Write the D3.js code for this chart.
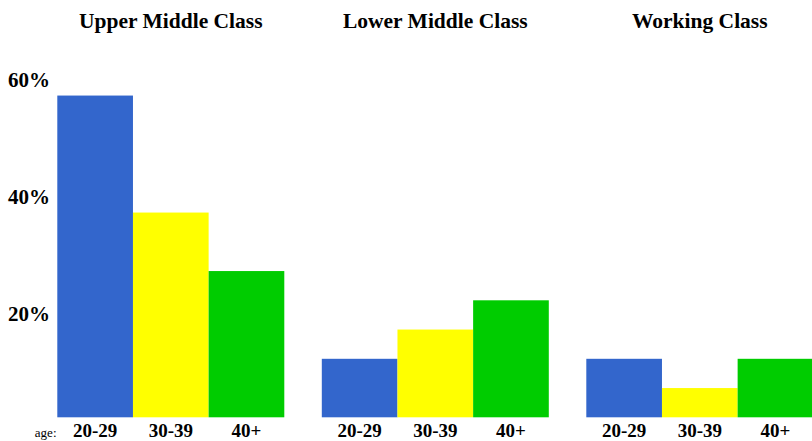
<!DOCTYPE html>
<html>
<head>
<meta charset="utf-8">
<script src="https://cdn.jsdelivr.net/npm/d3@7"></script>
<style>
  body { margin: 0; background: #fff; }
  text { font-family: "Liberation Serif", "DejaVu Serif", serif; fill: #000; }
</style>
</head>
<body>
<svg id="chart"></svg>
<script>
const groups = ["Upper Middle Class", "Lower Middle Class", "Working Class"];
const ages = ["20-29", "30-39", "40+"];
const values = [
  [55, 35, 25],
  [10, 15, 20],
  [10, 5, 10]
];
const yTicks = [20, 40, 60];
const colors = ["#3366cc", "#ffff00", "#00cc00"];

const width = 812, height = 441;
const baseline = 417.3;

const svg = d3.select("#chart")
  .attr("width", width)
  .attr("height", height);

const x0 = d3.scaleBand()
  .domain(groups)
  .range([57.3, 813.3])
  .paddingInner(0.1418)
  .paddingOuter(0);

const x1 = d3.scaleBand()
  .domain(ages)
  .range([0, x0.bandwidth()])
  .padding(0);

const y = d3.scaleLinear()
  .domain([0, 60])
  .range([baseline, 66.3]);

const color = d3.scaleOrdinal().domain(ages).range(colors);

// bars
const g = svg.selectAll("g.group")
  .data(groups)
  .enter()
  .append("g")
  .attr("class", "group")
  .attr("transform", d => `translate(${x0(d)},0)`);

g.selectAll("rect")
  .data((d, i) => values[i].map((v, j) => ({ age: ages[j], v: v })))
  .enter()
  .append("rect")
  .attr("x", d => x1(d.age))
  .attr("y", d => y(d.v))
  .attr("width", x1.bandwidth())
  .attr("height", d => baseline - y(d.v))
  .attr("fill", d => color(d.age));

// group titles
g.append("text")
  .attr("x", x0.bandwidth() / 2)
  .attr("y", 28)
  .style("text-anchor", "middle")
  .style("font-size", "21.5px")
  .style("font-weight", "bold")
  .text(d => d);

// age labels
g.selectAll("text.age")
  .data(ages)
  .enter()
  .append("text")
  .attr("class", "age")
  .attr("x", d => x1(d) + x1.bandwidth() / 2)
  .attr("y", 437)
  .style("text-anchor", "middle")
  .style("font-size", "19px")
  .style("font-weight", "bold")
  .text(d => d);

svg.append("text")
  .attr("x", 56.5)
  .attr("y", 437)
  .style("text-anchor", "end")
  .style("font-size", "13px")
  .text("age:");

// y labels
svg.selectAll("text.ylab")
  .data(yTicks)
  .enter()
  .append("text")
  .attr("class", "ylab")
  .attr("x", 8)
  .attr("y", d => y(d) + 20.5)
  .style("font-size", "21px")
  .style("font-weight", "bold")
  .text(d => d + "%");
</script>
</body>
</html>
